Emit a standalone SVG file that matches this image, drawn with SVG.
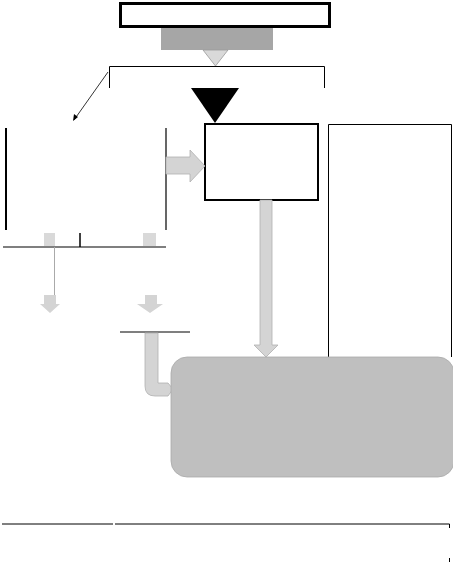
<svg xmlns="http://www.w3.org/2000/svg" width="453" height="563" viewBox="0 0 453 563">
<style>
.ln{stroke:#000;fill:none}
.garrow{fill:#d4d4d4;stroke:#b0b0b0;stroke-width:0.8}
</style>
<rect width="453" height="563" fill="#fff"/>
<g id="title"><rect x="120.5" y="3.5" width="209" height="23" fill="#fff" stroke="#000" stroke-width="3"/></g>
<g id="gray-bar"><rect x="161" y="28" width="112" height="22" fill="#a6a6a6"/></g>
<g id="small-triangle"><polygon points="203,50 228,50 215.5,66" fill="#d9d9d9" stroke="#999" stroke-width="0.8"/></g>
<g id="bracket"><polyline class="ln" points="109.5,88 109.5,66.5 324.5,66.5 324.5,88" stroke-width="1"/></g>
<g id="black-triangle"><polygon points="191,88 239,88 215,123" fill="#000"/></g>
<g id="left-box">
<line class="ln" x1="6" y1="128" x2="6" y2="230" stroke-width="2"/>
<line class="ln" x1="166" y1="128" x2="166" y2="230" stroke-width="1.2"/>
<line class="ln" x1="3" y1="247" x2="166" y2="247" stroke-width="1.2"/>
<line class="ln" x1="80" y1="233" x2="80" y2="247" stroke-width="1.5"/>
<rect x="44" y="233" width="11" height="13" fill="#d9d9d9"/>
<rect x="143" y="233" width="13" height="13" fill="#d9d9d9"/>
</g>
<g id="mid-box"><rect x="205" y="124" width="113" height="76" fill="#fff" stroke="#000" stroke-width="2"/></g>
<g id="right-box"><polyline class="ln" points="328.5,357 328.5,124.5 451.5,124.5 451.5,357" stroke-width="1"/></g>
<g id="left-line"><line class="ln" x1="120" y1="332" x2="190" y2="332" stroke-width="1.2"/></g>
<g id="bottom-line">
<line class="ln" x1="2" y1="524" x2="113" y2="524" stroke-width="1"/>
<polyline class="ln" points="115,524 449.5,524 449.5,528" stroke-width="1"/>
<line class="ln" x1="449.5" y1="558" x2="449.5" y2="562" stroke-width="1"/>
</g>
<g id="connectors">
<line x1="108" y1="72" x2="74" y2="120" stroke="#000" stroke-width="0.8"/>
<polygon points="73,121 74,114 78,117" fill="#000"/>
<polygon class="garrow" points="166,157 190,157 190,150 205,166 190,182 190,174 166,174"/>
<polygon class="garrow" points="260,200 272,200 272,345 278,345 266,357 254,345 260,345"/>
<line x1="54.5" y1="247" x2="54.5" y2="298" stroke="#aaa" stroke-width="1"/>
<polygon points="44,295 56,295 56,304 60,304 50,313 40,304 44,304" fill="#d4d4d4"/>
<polygon points="145,295 157,295 157,304 163,304 150,313 137,304 145,304" fill="#d4d4d4"/>
<path class="garrow" d="M145,333 L158,333 L158,383 L168,383 L173,389 L168,396 L155,396 Q145,396 145,386 Z"/>
</g>
<g id="result-box"><rect x="171" y="357" width="283" height="120" rx="16" fill="#bfbfbf" stroke="#aaa" stroke-width="0.8"/></g>
</svg>
